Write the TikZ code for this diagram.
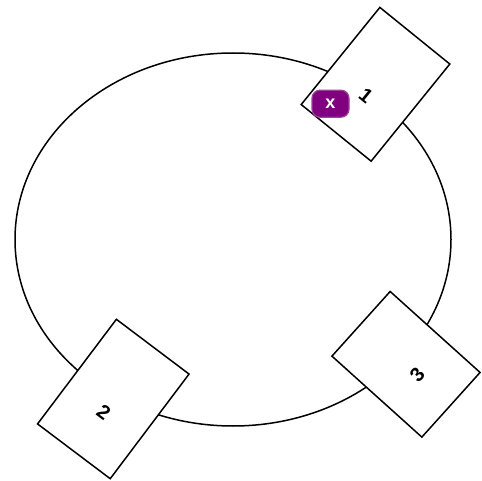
\documentclass[tikz,border=0pt]{standalone}
\usepackage{fontspec}
\setmainfont{Liberation Sans}
\usepackage{tikz}
\usetikzlibrary{positioning,calc}
\definecolor{tagpurple}{HTML}{800080}
\definecolor{tagedge}{HTML}{A0409A}

\begin{document}
\begin{tikzpicture}[x=1pt,y=1pt,
    card/.style={draw, line width=1.5pt, fill=white, rectangle, inner sep=0pt},
    cardnum/.style={font=\fontsize{20}{20}\selectfont\bfseries},
    tagbox/.style={draw=tagedge, line width=1.2pt, fill=tagpurple, rounded corners=8pt, text=white,
        minimum width=37pt, minimum height=27pt, inner sep=0pt, font=\fontsize{18}{18}\selectfont\bfseries}]
            \useasboundingbox (0,0) rectangle (482,-481);
            \draw[line width=1.5pt] (233,-239.5) ellipse [x radius=218, y radius=186.5];
            \node[card, minimum width=90pt, minimum height=125pt, rotate=-39] (c1) at (375.5,-84.3) {};
            \node[card, minimum width=91pt, minimum height=131pt, rotate=-37] (c2) at (113.3,-399) {};
            \node[card, minimum width=87pt, minimum height=121pt, rotate=48] (c3) at (406,-364.3) {};
            \node[cardnum, rotate=-39] (n1) at ($(c1.center)!15pt!(c1.south)$) {1};
            \node[cardnum, rotate=-37] (n2) at ($(c2.center)!16pt!(c2.south)$) {2};
            \node[cardnum, rotate=48] (n3) at ($(c3.center)!15pt!(c3.south)$) {3};
            \node[tagbox] (tag) at (330.5,-103.7) {x};
\end{tikzpicture}
\end{document}
